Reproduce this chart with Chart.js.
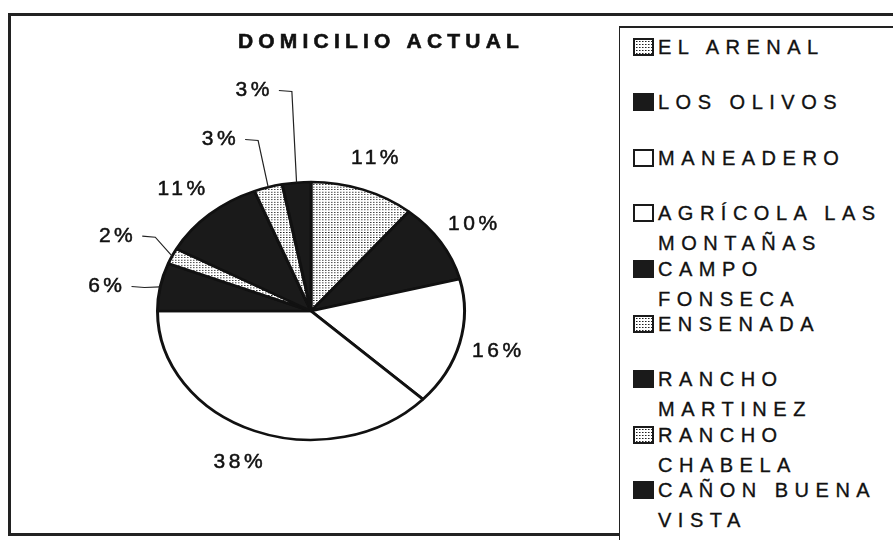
<!DOCTYPE html>
<html>
<head>
<meta charset="utf-8">
<script src="https://cdn.jsdelivr.net/npm/chart.js@4/dist/chart.umd.min.js"></script>
<style>
  html, body { margin: 0; padding: 0; background: #fff; overflow: hidden; }
  body { width: 893px; height: 540px; position: relative; font-family: "Liberation Sans", Arial, sans-serif; }
  #frame { position: absolute; left: 8px; top: 13px; width: 920px; height: 523px; border: 3px solid #222; box-sizing: border-box; }
  #chart { position: absolute; left: 0; top: 0; }
  #legend { position: absolute; left: 619px; top: 26px; width: 300px; height: 530px; border-left: 1.5px solid #222; border-top: 2px solid #222; background: #fff; padding-top: 4px; box-sizing: border-box; }
  .item { position: relative; height: 55.4px; }
  .sw { position: absolute; left: 13px; top: 6px; width: 21px; height: 18px; box-sizing: border-box; border: 2px solid #1a1a1a; }
  .txt { position: absolute; left: 38px; top: 0; width: 250px; font-size: 20px; line-height: 30px; letter-spacing: 6.5px; color: #111; -webkit-text-stroke: 0.35px #111; }
</style>
</head>
<body>
<div id="frame"></div>
<canvas id="chart" width="620" height="540"></canvas>
<div id="legend"></div>
<script>
// datos de la gráfica
const categorias = ["EL ARENAL", "LOS OLIVOS", "MANEADERO", "AGRÍCOLA LAS MONTAÑAS", "CAMPO FONSECA",
                    "ENSENADA", "RANCHO MARTINEZ", "RANCHO CHABELA", "CAÑON BUENA VISTA"];
const porcentajes = [11, 10, 16, 38, 6, 2, 11, 3, 3];
const rellenos = ["punteado", "negro", "blanco", "blanco", "negro", "punteado", "negro", "punteado", "negro"];
const titulo = "DOMICILIO ACTUAL";

// patrón de puntos
const tile = document.createElement("canvas");
tile.width = 3; tile.height = 3;
const tctx = tile.getContext("2d");
tctx.fillStyle = "#fff"; tctx.fillRect(0, 0, 3, 3);
tctx.fillStyle = "#222"; tctx.fillRect(1, 1, 1, 1);
tctx.fillStyle = "#888"; tctx.fillRect(2, 1, 1, 1);

const ctx = document.getElementById("chart").getContext("2d");
const puntos = ctx.createPattern(tile, "repeat");
const colorDe = (r) => r === "negro" ? "#1a1a1a" : r === "blanco" ? "#ffffff" : puntos;

const escalaY = 0.84; // pastel aplanado (elipse)

// posiciones de etiquetas con línea guía (en radios)
const guias = { 4: [-1.33, -0.19], 5: [-1.26, -0.58], 7: [-0.59, -1.33], 8: [-0.37, -1.71] };

const elipse = {
  id: "elipse",
  beforeDatasetsDraw(chart) {
    const arc = chart.getDatasetMeta(0).data[0];
    const c = chart.ctx;
    c.save();
    c.translate(arc.x, arc.y);
    c.scale(1, escalaY);
    c.translate(-arc.x, -arc.y);
  },
  afterDatasetsDraw(chart) {
    const c = chart.ctx;
    c.restore();
    const meta = chart.getDatasetMeta(0);
    c.save();
    c.font = "21px 'Liberation Sans', Arial, sans-serif";
    c.letterSpacing = "3.5px";
    c.fillStyle = "#111";
    c.strokeStyle = "#222";
    c.lineWidth = 1.2;
    c.textBaseline = "middle";
    c.textAlign = "center";
    const texto = (t, x, y) => {
      c.fillText(t, x, y);
      c.save(); c.lineWidth = 0.5; c.strokeStyle = "#111"; c.strokeText(t, x, y); c.restore();
    };
    meta.data.forEach((arc, i) => {
      const r = arc.outerRadius;
      const mid = (arc.startAngle + arc.endAngle) / 2;
      const txt = porcentajes[i] + "%";
      if (guias[i]) {
        const [dx, dy] = guias[i];
        const tx = arc.x + dx * r, ty = arc.y + dy * r * escalaY;
        texto(txt, tx, ty);
        const w = c.measureText(txt).width;
        const x0 = tx + w / 2 + 6;
        const ex = arc.x + Math.cos(mid) * r, ey = arc.y + Math.sin(mid) * r * escalaY;
        const x1 = Math.min(x0 + 13, ex);
        c.beginPath();
        c.moveTo(x0, ty);
        c.lineTo(x1, ty + 1);
        c.lineTo(ex, ey);
        c.stroke();
      } else {
        const k = 1.26;
        texto(txt, arc.x + Math.cos(mid) * r * k, arc.y + Math.sin(mid) * r * k * escalaY);
      }
    });
    c.restore();
  },
  afterDraw(chart) {
    const c = chart.ctx;
    c.save();
    c.font = "bold 21px 'Liberation Sans', Arial, sans-serif";
    c.letterSpacing = "5.2px";
    c.fillStyle = "#111";
    c.strokeStyle = "#111";
    c.lineWidth = 0.6;
    c.textAlign = "center";
    c.textBaseline = "middle";
    c.fillText(titulo, 381, 42);
    c.strokeText(titulo, 381, 42);
    c.restore();
  }
};

new Chart(ctx, {
  type: "pie",
  data: {
    labels: categorias,
    datasets: [{
      data: porcentajes,
      backgroundColor: rellenos.map(colorDe),
      borderColor: "#111",
      borderWidth: 3
    }]
  },
  options: {
    responsive: false,
    animation: false,
    events: [],
    layout: { padding: { left: 156, right: 154, top: 156, bottom: 74 } },
    plugins: { legend: { display: false }, tooltip: { enabled: false }, title: { display: false } }
  },
  plugins: [elipse]
});

// leyenda
const leyenda = document.getElementById("legend");
const fondoPuntos = "url(" + tile.toDataURL() + ")";
categorias.forEach((cat, i) => {
  const it = document.createElement("div");
  it.className = "item";
  const sw = document.createElement("div");
  sw.className = "sw";
  if (rellenos[i] === "negro") sw.style.background = "#1a1a1a";
  else if (rellenos[i] === "blanco") sw.style.background = "#fff";
  else sw.style.backgroundImage = fondoPuntos;
  const tx = document.createElement("div");
  tx.className = "txt";
  tx.textContent = cat;
  it.appendChild(sw);
  it.appendChild(tx);
  leyenda.appendChild(it);
});
</script>
</body>
</html>
